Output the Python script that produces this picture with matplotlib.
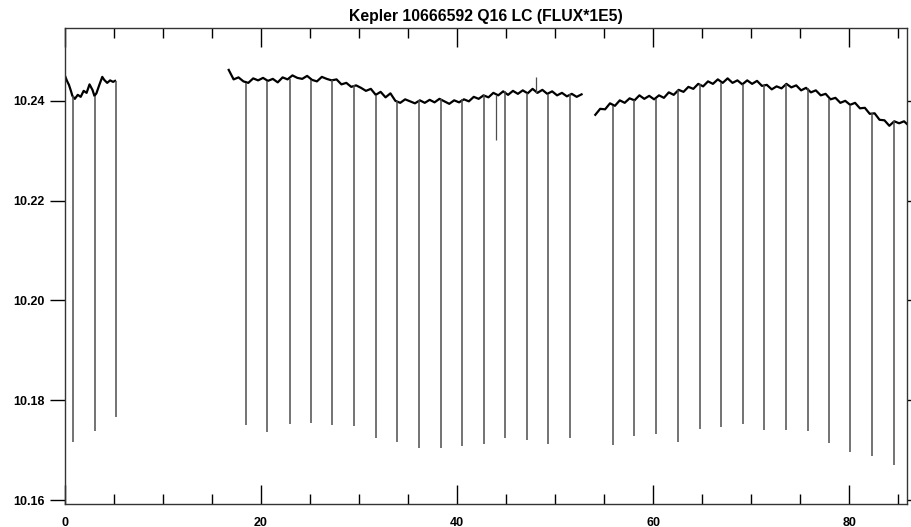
import numpy as np
import matplotlib
matplotlib.use("Agg")
import matplotlib.pyplot as plt
from matplotlib.ticker import MultipleLocator

plt.rcParams['font.family'] = ['Liberation Sans', 'DejaVu Sans']

title = "Kepler 10666592 Q16 LC (FLUX*1E5)"

# out-of-eclipse flux, one list per data segment
seg1_t = [0.0, 0.2, 0.4, 0.6, 0.75, 1.0, 1.3, 1.6, 1.9, 2.2, 2.5, 2.8, 3.0,
          3.2, 3.5, 3.8, 4.0, 4.3, 4.6, 4.9, 5.1]
seg1_f = [10.2450, 10.2440, 10.2432, 10.2420, 10.2410, 10.2404, 10.2412,
          10.2408, 10.2420, 10.2416, 10.2433, 10.2422, 10.2410, 10.2415,
          10.2432, 10.2448, 10.2442, 10.2436, 10.2441, 10.2438, 10.2440]

seg2_t0, seg3_t0, step = 16.7, 54.1, 0.5
seg2_f = [10.2462, 10.2443, 10.2447, 10.2439, 10.2436, 10.2445, 10.2441,
          10.2446, 10.2440, 10.2444, 10.2437, 10.2447, 10.2443, 10.2451,
          10.2446, 10.2444, 10.2450, 10.2442, 10.2439, 10.2448, 10.2444,
          10.2441, 10.2443, 10.2433, 10.2436, 10.2428, 10.2431, 10.2426,
          10.2420, 10.2424, 10.2412, 10.2418, 10.2407, 10.2415, 10.2400,
          10.2396, 10.2403, 10.2399, 10.2395, 10.2401, 10.2396, 10.2402,
          10.2397, 10.2404, 10.2399, 10.2394, 10.2401, 10.2397, 10.2403,
          10.2399, 10.2408, 10.2404, 10.2411, 10.2407, 10.2416, 10.2411,
          10.2419, 10.2412, 10.2420, 10.2414, 10.2421, 10.2415, 10.2424,
          10.2416, 10.2422, 10.2414, 10.2419, 10.2411, 10.2416, 10.2409,
          10.2414, 10.2408, 10.2413]
seg3_f = [10.2372, 10.2384, 10.2383, 10.2395, 10.2390, 10.2401, 10.2396,
          10.2405, 10.2401, 10.2411, 10.2404, 10.2410, 10.2403, 10.2411,
          10.2406, 10.2417, 10.2412, 10.2422, 10.2418, 10.2428, 10.2424,
          10.2434, 10.2429, 10.2439, 10.2434, 10.2443, 10.2436, 10.2445,
          10.2436, 10.2441, 10.2433, 10.2441, 10.2434, 10.2440, 10.2430,
          10.2432, 10.2423, 10.2429, 10.2425, 10.2434, 10.2427, 10.2431,
          10.2421, 10.2426, 10.2417, 10.2421, 10.2411, 10.2414, 10.2403,
          10.2406, 10.2396, 10.2400, 10.2392, 10.2396, 10.2385, 10.2386,
          10.2374, 10.2375, 10.2362, 10.2361, 10.2350, 10.2359, 10.2355,
          10.2359, 10.2350]

# eclipse mid-times and the flux at the bottom of each dip
ecl_t = [0.8, 3.06, 5.17,
         18.5, 20.64, 22.92, 25.1, 27.28, 29.52, 31.7, 33.88, 36.1, 38.37,
         40.55, 42.72, 44.93, 47.14, 49.32, 51.56,
         55.92, 58.09, 60.34, 62.58, 64.8, 66.97, 69.18, 71.36, 73.54,
         75.78, 77.96, 80.13, 82.38, 84.59]
ecl_f = [10.1716, 10.1738, 10.1766,
         10.1750, 10.1737, 10.1753, 10.1755, 10.1750, 10.1748, 10.1725,
         10.1717, 10.1705, 10.1704,
         10.1708, 10.1712, 10.1725, 10.1721, 10.1713, 10.1725,
         10.1710, 10.1728, 10.1733, 10.1716, 10.1743, 10.1747, 10.1753,
         10.1740, 10.1740, 10.1739, 10.1715, 10.1697, 10.1689, 10.1670]

# single-point outliers
spike_t = [44.0, 48.0]
spike_f = [10.2322, 10.2447]

seg2_t = seg2_t0 + step * np.arange(len(seg2_f))
seg3_t = seg3_t0 + step * np.arange(len(seg3_f))

t_all = np.concatenate([seg1_t, [np.nan], seg2_t, [np.nan], seg3_t])
f_all = np.concatenate([seg1_f, [np.nan], seg2_f, [np.nan], seg3_f])

knots_t = np.concatenate([seg1_t, seg2_t, seg3_t])
knots_f = np.concatenate([seg1_f, seg2_f, seg3_f])


def base_at(t):
    # flux of the nearest out-of-eclipse sample
    return knots_f[np.argmin(np.abs(knots_t - t))]


fig = plt.figure(figsize=(9.12, 5.27), dpi=100)
ax = fig.add_axes([0.0713, 0.0436, 0.9232, 0.9033])

ax.plot(t_all, f_all, color='black', lw=1.6)
ax.vlines(ecl_t, ecl_f, [base_at(t) for t in ecl_t], color='0.3', lw=1.1)
ax.vlines(spike_t, spike_f, [base_at(t) for t in spike_t], color='0.3', lw=0.9)

ax.set_xlim(0, 85.9)
ax.set_ylim(10.1592, 10.2546)

ax.xaxis.set_major_locator(MultipleLocator(20))
ax.xaxis.set_minor_locator(MultipleLocator(5))
ax.yaxis.set_major_locator(MultipleLocator(0.02))
ax.yaxis.set_major_formatter(matplotlib.ticker.FormatStrFormatter('%.2f'))

ax.tick_params(axis='x', which='major', direction='in', length=13.5, width=1,
               top=True, pad=9, labelsize=9)
ax.tick_params(axis='x', which='minor', direction='in', length=7, width=1,
               top=True)
ax.tick_params(axis='y', which='major', direction='out', length=11, width=1,
               right=True, pad=3.5, labelsize=9)
for lab in ax.get_xticklabels() + ax.get_yticklabels():
    lab.set_fontweight('bold')

for sp in ax.spines.values():
    sp.set_linewidth(1.0)
    sp.set_color('0.2')

ax.set_title(title, fontsize=11.3, fontweight='bold', pad=5)

fig.savefig('out.png', dpi=100)
